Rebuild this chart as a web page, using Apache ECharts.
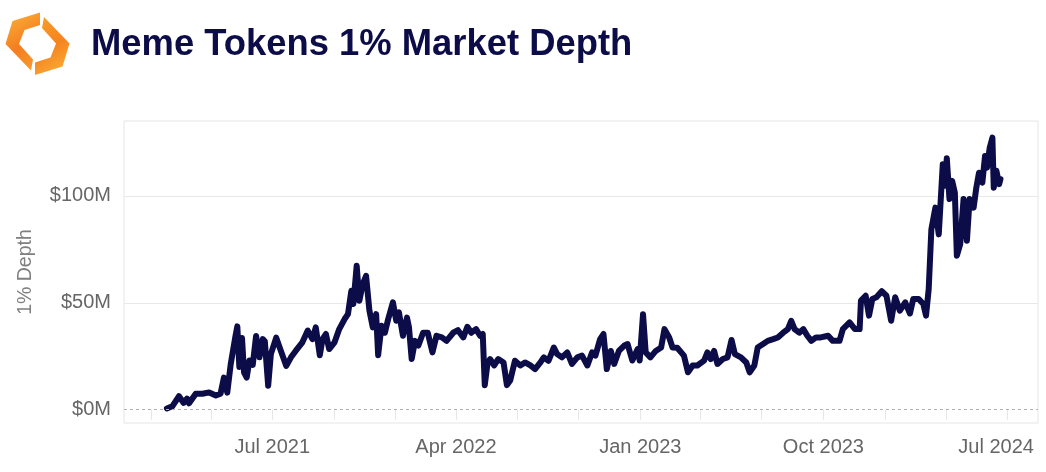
<!DOCTYPE html>
<html><head><meta charset="utf-8">
<script src="https://cdn.jsdelivr.net/npm/echarts@6/dist/echarts.min.js"></script>
<style>html,body{margin:0;padding:0;background:#fff}#c{width:1046px;height:472px}</style>
</head><body><div id="c"></div>
<script>
const dates = [
'2021-01-25','2021-02-02','2021-02-12','2021-02-19','2021-02-24','2021-02-27','2021-03-09','2021-03-19','2021-03-29','2021-04-08','2021-04-15','2021-04-20','2021-04-25','2021-04-30','2021-05-07','2021-05-10','2021-05-13','2021-05-17','2021-05-20','2021-05-24','2021-05-28','2021-06-02','2021-06-07','2021-06-12','2021-06-17','2021-06-20','2021-06-25','2021-06-29','2021-07-07','2021-07-14','2021-07-22','2021-07-29','2021-08-05','2021-08-15','2021-08-23','2021-08-30','2021-09-04','2021-09-10','2021-09-14','2021-09-19','2021-09-24','2021-10-02','2021-10-09','2021-10-17','2021-10-22','2021-10-27','2021-10-30','2021-11-04','2021-11-08','2021-11-13','2021-11-18','2021-11-23','2021-11-28','2021-12-03','2021-12-06',
'2021-12-11','2021-12-16','2021-12-21','2021-12-28','2022-01-02','2022-01-06','2022-01-12','2022-01-18','2022-01-21','2022-01-25','2022-01-30','2022-02-04','2022-02-11','2022-02-18','2022-02-25','2022-03-03','2022-03-11','2022-03-18','2022-03-28','2022-04-04','2022-04-12','2022-04-18','2022-04-24','2022-05-01','2022-05-07','2022-05-11','2022-05-14','2022-05-18','2022-05-22','2022-05-28','2022-06-03','2022-06-11','2022-06-16','2022-06-21','2022-06-28','2022-07-06','2022-07-13','2022-07-21','2022-07-28','2022-08-05','2022-08-10','2022-08-17','2022-08-25','2022-08-30','2022-09-06','2022-09-14','2022-09-21','2022-09-29','2022-10-06','2022-10-14','2022-10-21','2022-10-26','2022-11-02',
'2022-11-07','2022-11-12','2022-11-18','2022-11-23','2022-11-30','2022-12-08','2022-12-13','2022-12-20','2022-12-28','2022-12-31','2023-01-05','2023-01-09','2023-01-16','2023-01-24','2023-02-01','2023-02-06','2023-02-13','2023-02-18','2023-02-25','2023-03-07','2023-03-13','2023-03-20','2023-03-27','2023-04-06','2023-04-11','2023-04-16','2023-04-21','2023-04-26','2023-05-04','2023-05-11','2023-05-17','2023-05-22','2023-05-31','2023-06-08','2023-06-13','2023-06-20','2023-06-25','2023-07-03','2023-07-10','2023-07-18','2023-07-25','2023-08-02','2023-08-09','2023-08-14','2023-08-19','2023-08-26','2023-09-01','2023-09-07','2023-09-13','2023-09-20','2023-09-27',
'2023-10-08','2023-10-15','2023-10-25','2023-10-30','2023-11-09','2023-11-17','2023-11-24','2023-11-26','2023-12-03','2023-12-08','2023-12-13','2023-12-19','2023-12-27','2024-01-03','2024-01-10','2024-01-16','2024-01-23','2024-01-31','2024-02-07','2024-02-12','2024-02-20','2024-02-27','2024-03-02','2024-03-06','2024-03-10','2024-03-16','2024-03-21','2024-03-27','2024-03-30','2024-04-02','2024-04-06','2024-04-10','2024-04-14','2024-04-17','2024-04-22','2024-04-27','2024-05-02','2024-05-06','2024-05-12','2024-05-16','2024-05-20','2024-05-25','2024-05-29','2024-06-01','2024-06-05','2024-06-09','2024-06-11','2024-06-15','2024-06-19','2024-06-21'
];
const depthM = [
0.6,1.6,6.3,3.2,5.2,3.0,7.5,7.5,8.1,6.7,7.5,15,8,21,34,39,20,33.5,17.5,15,23,21,34.5,24.5,33,32,11.2,26,33.7,27.5,20.5,24.5,27.5,31.5,37,33,38.5,25.5,33,35.4,28.4,31.5,37.7,42.4,44.7,55.6,49.4,67.3,51,58.7,62.6,46.3,38.5,44.7,25.5,
39.3,36,42.4,50.2,41.6,45.5,34.6,43.1,38.5,23.7,32.2,30,36,36,26.8,34.6,33.8,32.2,36,37.2,33.8,38.8,36,37.7,34.6,35.4,11.5,21.4,23.7,20.7,23.7,22.1,11.5,13.8,22.9,20.7,22.1,20.7,19,22.1,24.5,22.9,29.1,26,24.5,26.8,21.4,24.5,25.3,20.7,26.8,25.3,33,
35.4,19,27.5,21.4,27.5,30,30.7,23,28.4,23,44.7,26.8,24.5,27.5,29.1,37.7,33.8,29.1,29,25.3,17.5,20.7,20.7,23,26.8,23.7,27.5,21.4,23.7,24.5,32.6,26,24.5,22.1,17.5,20.7,29.1,30.7,32.2,33,33.8,36,37.7,41.6,37.7,36,37.7,34.6,32.2,33.8,33.8,
34.6,32.2,32.2,37.7,40.8,37.7,37.7,51,53.3,44,51.8,52.6,55.4,53.3,41.6,52.6,46.3,50.2,45,51.8,51.8,49.4,44,56.4,84.4,94.5,82,114.8,104.7,117.6,98.5,107,101.5,72,77.4,98.5,79,98.5,94.5,103.8,110.8,106.2,118.6,113.2,122.5,127.2,103.8,111.7,105.5,107.8
];
const xTickDates = ['2021-01-01','2021-04-01','2021-07-01','2021-10-01','2022-01-01','2022-04-01','2022-07-01','2022-10-01','2023-01-01','2023-04-01','2023-07-01','2023-10-01','2024-01-01','2024-04-01','2024-07-01'];
const xLabelDates = ['2021-07-01','2022-04-01','2023-01-01','2023-10-01','2024-07-01'];
const xLabelTexts = ['Jul 2021','Apr 2022','Jan 2023','Oct 2023','Jul 2024'];
const xRange = ['2020-11-22', '2024-08-16'];
const yLabelValues = [0, 50, 100];
const yGridValues = [50, 100];
const titleText = 'Meme Tokens 1% Market Depth';
const yAxisName = '1% Depth';

const P = s => echarts.time.parse(s).getTime();
const labelTs = xLabelDates.map(P);
const chart = echarts.init(document.getElementById('c'));
const FONT = '"Liberation Sans", Arial, Helvetica, sans-serif';

chart.setOption({
  animation: false,
  backgroundColor: '#fff',
  title: {
    text: titleText, left: 91, top: 27, padding: 0,
    textStyle: {fontFamily: FONT, fontWeight: 'bold', fontSize: 36.4, color: '#0c0c48'}
  },
  graphic: [
    {type: 'polygon', shape: {points: [[40,12.5],[12.5,21],[5.5,44],[31,70.5],[33,59.5],[19,44],[24.5,30],[40,25]]},
     style: {fill: new echarts.graphic.LinearGradient(0,0,1,1,[{offset:0,color:'#fbb43a'},{offset:0.55,color:'#f47d20'},{offset:1,color:'#f8a030'}])}},
    {type: 'polygon', shape: {points: [[35,75.1],[62.5,66.6],[69.5,43.6],[44,17.1],[42,28.1],[56,43.6],[50.5,57.6],[35,62.6]]},
     style: {fill: new echarts.graphic.LinearGradient(0,0,1,1,[{offset:0,color:'#f8a02a'},{offset:0.5,color:'#f5841f'},{offset:1,color:'#fbb43a'}])}}
  ],
  grid: {left: 124, right: 8, top: 121, bottom: 49, show: true, borderColor: '#e6e6e6', borderWidth: 1, containLabel: false},
  xAxis: {
    type: 'value', scale: true,
    min: P(xRange[0]), max: P(xRange[1]),
    axisLine: {show: false},
    axisTick: {show: true, length: 10, lineStyle: {color: '#e6e6e6'}, customValues: xTickDates.map(P)},
    splitLine: {show: false},
    axisLabel: {
      customValues: labelTs, margin: 14, fontFamily: FONT, fontSize: 20, color: '#666',
      formatter: v => {
        const i = labelTs.indexOf(v);
        if (i < 0) return '';
        return i === labelTs.length - 1 ? '{s|' + xLabelTexts[i] + '}' : xLabelTexts[i];
      },
      rich: {s: {fontFamily: FONT, fontSize: 20, color: '#666', padding: [0, 22, 0, 0]}}
    }
  },
  yAxis: {
    type: 'value', min: -6.2, max: 135,
    name: yAxisName, nameLocation: 'middle', nameRotate: 90, nameGap: 88,
    nameTextStyle: {fontFamily: FONT, fontSize: 19.5, color: '#808080'},
    axisLine: {show: false},
    axisTick: {show: false, customValues: yGridValues},
    splitLine: {show: true, lineStyle: {color: '#e8e8e8', width: 1}},
    axisLabel: {customValues: yLabelValues, margin: 13, fontFamily: FONT, fontSize: 20, color: '#666', formatter: v => '$' + v + 'M'}
  },
  series: [{
    type: 'line',
    data: dates.map((d, i) => [P(d), depthM[i]]),
    showSymbol: false, symbol: 'none',
    lineStyle: {color: '#0c0c48', width: 6, join: 'round', cap: 'round'},
    markLine: {
      silent: true, symbol: 'none', animation: false,
      label: {show: false},
      lineStyle: {color: '#b0b0b0', type: [3, 3], width: 1},
      data: [{yAxis: 0}]
    }
  }]
});
</script></body></html>
